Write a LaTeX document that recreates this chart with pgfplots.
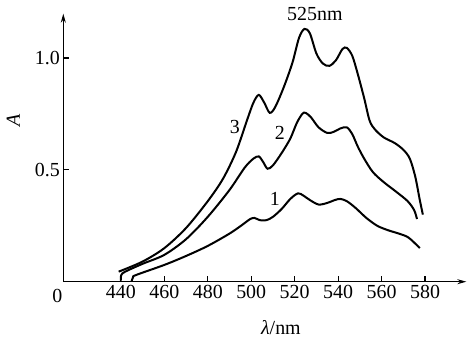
\documentclass[border=0pt]{standalone}
\usepackage{fontspec}
\setmainfont{Liberation Serif}
\usepackage{pgfplots}
\pgfplotsset{compat=1.18}
\usetikzlibrary{arrows.meta}
\begin{document}
\begin{tikzpicture}
\begin{axis}[
  scale only axis, width=403bp, height=268bp,
  axis x line=bottom, axis y line=left,
  axis line style={line width=1.1bp, -{Stealth[length=9bp,width=5bp]}},
  xmin=413.5, xmax=599, ymin=0, ymax=1.198,
  xtick={440,460,...,580},
  ytick={0.5,1.0},
  yticklabels={0.5,1.0},
  tick align=inside,
  major tick length=6bp,
  major tick style={black, line width=1.2bp},
  /pgf/number format/assume math mode=true,
  tick label style={font=\fontsize{20}{23}\selectfont},
  label style={font=\fontsize{20}{23}\selectfont},
  xlabel={\textit{λ}/nm},
  ylabel={\textit{A}},
  xlabel style={at={(axis description cs:0.54,-0.173)}, anchor=center},
  ylabel style={at={(axis description cs:-0.124,0.603)}, anchor=center},
  clip=false,
]
% curve 3
\addplot[black, line width=2bp, smooth, tension=0.5, mark=none] coordinates {(439,0.045)(450,0.09)(460,0.15)(470,0.24)(480,0.36)(487,0.46)(493,0.58)(498,0.72)(501,0.80)(503.5,0.835)(506,0.80)(508.5,0.755)(511,0.78)(515,0.87)(519,0.98)(522,1.09)(524.5,1.13)(527,1.11)(530,1.02)(533,0.975)(536,0.965)(539,0.99)(542,1.04)(544,1.045)(546.5,1.01)(549,0.93)(552,0.82)(554.5,0.72)(557,0.68)(561,0.645)(566,0.62)(570,0.59)(573,0.55)(575.5,0.47)(577.5,0.37)(579,0.30)};
% curve 2
\addplot[black, line width=2bp, smooth, tension=0.5, mark=none] coordinates {(440,0.005)(440.2,0.03)(442,0.045)(450,0.08)(460,0.12)(470,0.19)(480,0.29)(490,0.41)(497,0.51)(501,0.55)(503.5,0.56)(505.5,0.535)(507.5,0.505)(510,0.52)(514,0.575)(518,0.64)(521,0.71)(523.5,0.75)(525,0.755)(527.5,0.735)(531,0.69)(535,0.665)(538,0.67)(541,0.685)(544,0.69)(546.5,0.66)(549,0.605)(552,0.55)(556,0.49)(561,0.445)(567,0.40)(572,0.36)(575,0.32)(576.3,0.28)};
% curve 1
\addplot[black, line width=2bp, smooth, tension=0.5, mark=none] coordinates {(444.9,0.0)(445.6,0.02)(447,0.03)(460,0.075)(470,0.115)(480,0.16)(490,0.215)(496,0.255)(499.5,0.28)(501.5,0.285)(504,0.275)(507,0.275)(510,0.29)(514,0.325)(518,0.37)(521.5,0.395)(524,0.385)(527,0.365)(531,0.345)(535,0.352)(538.5,0.365)(541,0.37)(544,0.36)(548,0.33)(553,0.285)(558,0.25)(563,0.23)(568,0.215)(572,0.2)(575,0.175)(577.6,0.15)};
\pgfplotsinvokeforeach{440,460,...,580}{\draw[black, line width=1.1bp] (axis cs:#1,0) -- ([yshift=5.5bp]axis cs:#1,0);}
\pgfplotsinvokeforeach{0.5,1.0}{\draw[black, line width=1.1bp] (axis cs:413.5,#1) -- ([xshift=5.5bp]axis cs:413.5,#1);}
\node[font=\fontsize{20}{23}\selectfont] at (axis cs:529.3,1.197) {525nm};
\node[font=\fontsize{20}{23}\selectfont] at (axis cs:492.5,0.692) {3};
\node[font=\fontsize{20}{23}\selectfont] at (axis cs:513.2,0.665) {2};
\node[font=\fontsize{20}{23}\selectfont] at (axis cs:510.9,0.37) {1};
\node[font=\fontsize{20}{23}\selectfont] at ([xshift=-6bp,yshift=-14.3bp]axis cs:413.5,0) {0};
\end{axis}
\pgfresetboundingbox
\useasboundingbox (-63.3bp,-57.3bp) rectangle (410.7bp,281.7bp);
\end{tikzpicture}
\end{document}
